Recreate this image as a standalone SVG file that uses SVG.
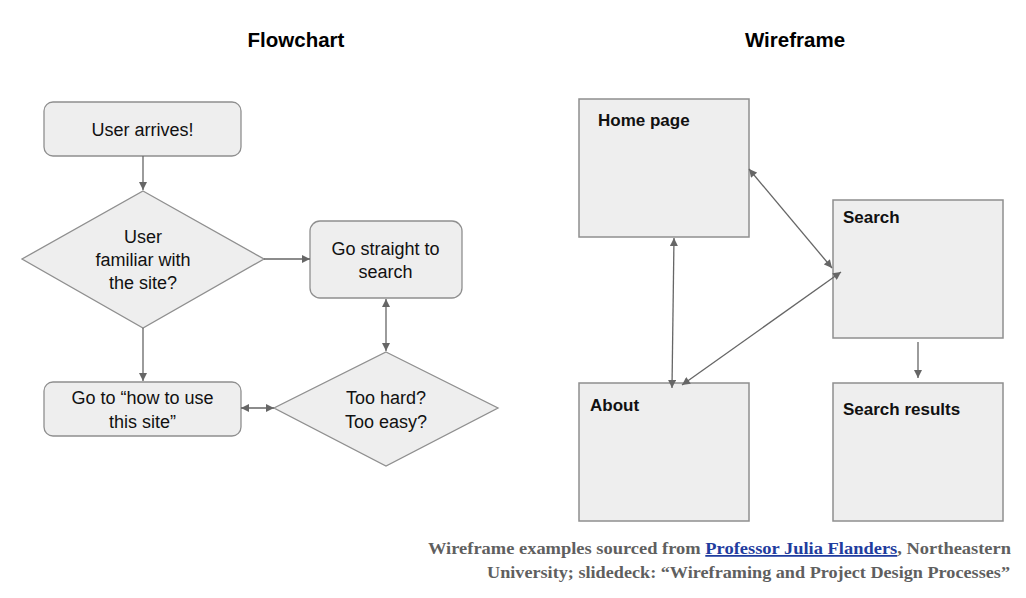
<svg xmlns="http://www.w3.org/2000/svg" width="1026" height="598" viewBox="0 0 1026 598">
<style>
.bg{fill:#ffffff}
.fbox{fill:#eeeeee;stroke:#8f8f8f;stroke-width:1.3}
.wbox{fill:#eeeeee;stroke:#8f8f8f;stroke-width:1.5}
.t{font-family:"Liberation Sans",Arial,sans-serif;font-size:18px;fill:#111;text-anchor:middle}
.wl{font-family:"Liberation Sans",Arial,sans-serif;font-size:17px;font-weight:bold;fill:#111}
.title{font-family:"Liberation Sans",Arial,sans-serif;font-size:20.5px;font-weight:bold;fill:#000;text-anchor:middle}
.c{fill:none;stroke:#666666;stroke-width:1.3}
.foot{font-family:"Liberation Serif","Times New Roman",serif;font-size:17.5px;font-weight:bold;fill:#5f5f5f}
.link{fill:#1f3c9e;text-decoration:underline}
</style>
<defs>
<marker id="ah" viewBox="0 0 10 10" refX="10" refY="5" markerWidth="9" markerHeight="8" markerUnits="userSpaceOnUse" orient="auto-start-reverse">
<path d="M0,0 L10,5 L0,10 z" fill="#666666"/>
</marker>
</defs>
<rect class="bg" x="0" y="0" width="1026" height="598"/>
<text class="title" x="296" y="47">Flowchart</text>
<text class="title" x="795" y="47">Wireframe</text>
<g id="user-arrives">
<rect class="fbox" x="44" y="102" width="197" height="54" rx="9"/>
<text class="t" x="142.5" y="136">User arrives!</text>
</g>
<g id="familiar">
<polygon class="fbox" points="143,191 264,259 143,328 22,259"/>
<text class="t" x="143" y="243">User</text>
<text class="t" x="143" y="266">familiar with</text>
<text class="t" x="143" y="289">the site?</text>
</g>
<g id="straight-search">
<rect class="fbox" x="310" y="221" width="152" height="77" rx="10"/>
<text class="t" x="385.5" y="255">Go straight to</text>
<text class="t" x="385.5" y="278">search</text>
</g>
<g id="too-hard">
<polygon class="fbox" points="386,352 498,408 386,466 274,408"/>
<text class="t" x="386" y="404">Too hard?</text>
<text class="t" x="386" y="428">Too easy?</text>
</g>
<g id="how-to-use">
<rect class="fbox" x="44" y="382" width="197" height="54" rx="9"/>
<text class="t" x="142.5" y="404">Go to “how to use</text>
<text class="t" x="142.5" y="428">this site”</text>
</g>
<g id="home-page">
<rect class="wbox" x="579" y="99" width="170" height="138"/>
<text class="wl" x="598" y="126">Home page</text>
</g>
<g id="search">
<rect class="wbox" x="833" y="200" width="170" height="138"/>
<text class="wl" x="843" y="223">Search</text>
</g>
<g id="about">
<rect class="wbox" x="579" y="383" width="170" height="138"/>
<text class="wl" x="590" y="411">About</text>
</g>
<g id="search-results">
<rect class="wbox" x="833" y="383" width="170" height="138"/>
<text class="wl" x="843" y="415">Search results</text>
</g>
<g id="connectors">
<line class="c" x1="143" y1="156" x2="143" y2="190" marker-end="url(#ah)"/>
<line class="c" x1="264" y1="259" x2="310" y2="259" marker-end="url(#ah)"/>
<line class="c" x1="386" y1="299" x2="386" y2="351" marker-start="url(#ah)" marker-end="url(#ah)"/>
<line class="c" x1="143" y1="328" x2="143" y2="381" marker-end="url(#ah)"/>
<line class="c" x1="241" y1="408" x2="274" y2="408" marker-start="url(#ah)" marker-end="url(#ah)"/>
<line class="c" x1="918" y1="342" x2="918" y2="378" marker-end="url(#ah)"/>
<line class="c" x1="749" y1="169" x2="832" y2="268" marker-start="url(#ah)" marker-end="url(#ah)"/>
<line class="c" x1="674" y1="238" x2="672" y2="388" marker-start="url(#ah)" marker-end="url(#ah)"/>
<line class="c" x1="841" y1="272" x2="682" y2="385" marker-start="url(#ah)" marker-end="url(#ah)"/>
</g>
<g id="footer">
<text class="foot" x="428" y="554" textLength="583" lengthAdjust="spacingAndGlyphs">Wireframe examples sourced from <tspan class="link">Professor Julia Flanders</tspan>, Northeastern</text>
<text class="foot" x="487" y="578" textLength="523" lengthAdjust="spacingAndGlyphs">University; slidedeck: “Wireframing and Project Design Processes”</text>
</g>
</svg>
